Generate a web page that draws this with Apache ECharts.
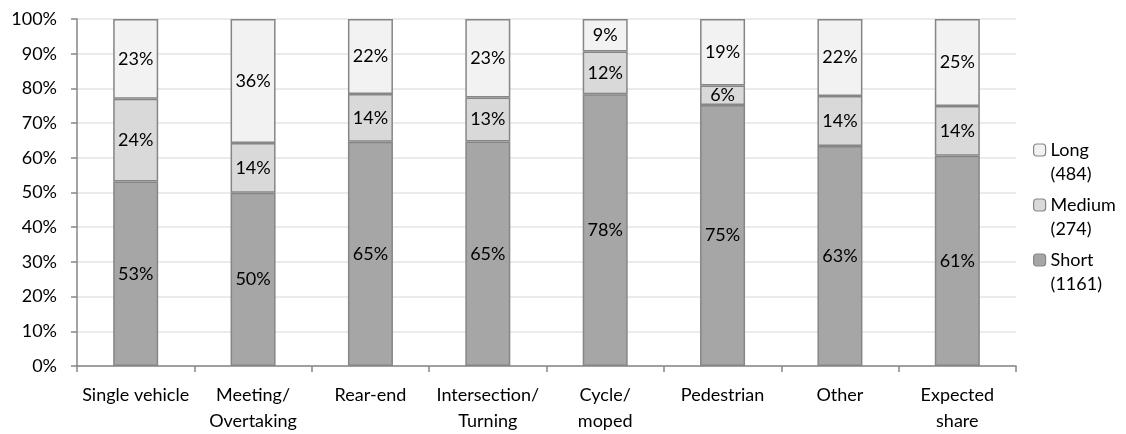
<!DOCTYPE html>
<html>
<head>
<meta charset="utf-8">
<script src="https://cdn.jsdelivr.net/npm/echarts@6/dist/echarts.min.js"></script>
<style>
  html, body { margin: 0; padding: 0; background: #fff; }
  #chart { width: 1126px; height: 434px; }
</style>
</head>
<body>
<div id="chart"></div>
<script>
// Crash type categories (x axis)
const categories = ['Single vehicle', 'Meeting/\nOvertaking', 'Rear-end', 'Intersection/\nTurning',
  'Cycle/\nmoped', 'Pedestrian', 'Other', 'Expected\nshare'];

// Share of each duration class per category, in percent
const shortShare  = [53.2, 49.9, 64.6, 64.7, 78.3, 75.2, 63.4, 60.6];
const mediumShare = [23.8, 14.4, 13.8, 12.7, 12.3, 5.6, 14.4, 14.3];
const longShare   = [23.0, 35.7, 21.6, 22.6, 9.4, 19.2, 22.2, 25.1];

// Legend names with case counts
const seriesNames = ['Short\n(1161)', 'Medium\n(274)', 'Long\n(484)'];
const seriesColors = ['#a6a6a6', '#d9d9d9', '#f2f2f2'];

const FONT = 'Lato';
const FS = 18;

function barSeries(name, data, color) {
  return {
    name: name,
    type: 'bar',
    stack: 'total',
    data: data,
    barWidth: 45,
    itemStyle: { color: color, borderColor: '#868686', borderWidth: 1.5 },
    label: {
      show: true,
      position: 'inside',
      color: '#000',
      fontFamily: FONT,
      fontSize: FS,
      formatter: p => Math.round(p.value) + '%'
    },
    emphasis: { disabled: true }
  };
}

const chart = echarts.init(document.getElementById('chart'));
chart.setOption({
  animation: false,
  grid: { left: 77, right: 110, top: 19, bottom: 67 },
  legend: {
    orient: 'vertical',
    left: 1028,
    top: 109,
    itemWidth: 12,
    itemHeight: 12,
    itemGap: -17,
    data: [seriesNames[2], seriesNames[1], seriesNames[0]],
    // leading blank line keeps the marker level with the first text line
    formatter: name => ' \n' + name,
    itemStyle: { borderColor: '#868686', borderWidth: 1.2 },
    textStyle: { fontFamily: FONT, fontSize: FS, color: '#000', lineHeight: 24 },
    selectedMode: false
  },
  xAxis: {
    type: 'category',
    data: categories,
    axisLine: { lineStyle: { color: '#868686', width: 1.5 } },
    axisTick: { show: true, interval: 0, length: 6, lineStyle: { color: '#868686', width: 1.5 } },
    axisLabel: { interval: 0, color: '#000', fontFamily: FONT, fontSize: FS, lineHeight: 26, margin: 16 }
  },
  yAxis: {
    type: 'value',
    min: 0,
    max: 100,
    interval: 10,
    axisLine: { show: true, lineStyle: { color: '#868686', width: 1.5 } },
    axisTick: { show: true, length: 6, lineStyle: { color: '#868686', width: 1.5 } },
    axisLabel: { color: '#000', fontFamily: FONT, fontSize: FS, margin: 20, formatter: '{value}%' },
    splitLine: { lineStyle: { color: '#e4e4e4', width: 1.5 } }
  },
  series: [
    barSeries(seriesNames[0], shortShare, seriesColors[0]),
    barSeries(seriesNames[1], mediumShare, seriesColors[1]),
    barSeries(seriesNames[2], longShare, seriesColors[2])
  ]
});
</script>
</body>
</html>
